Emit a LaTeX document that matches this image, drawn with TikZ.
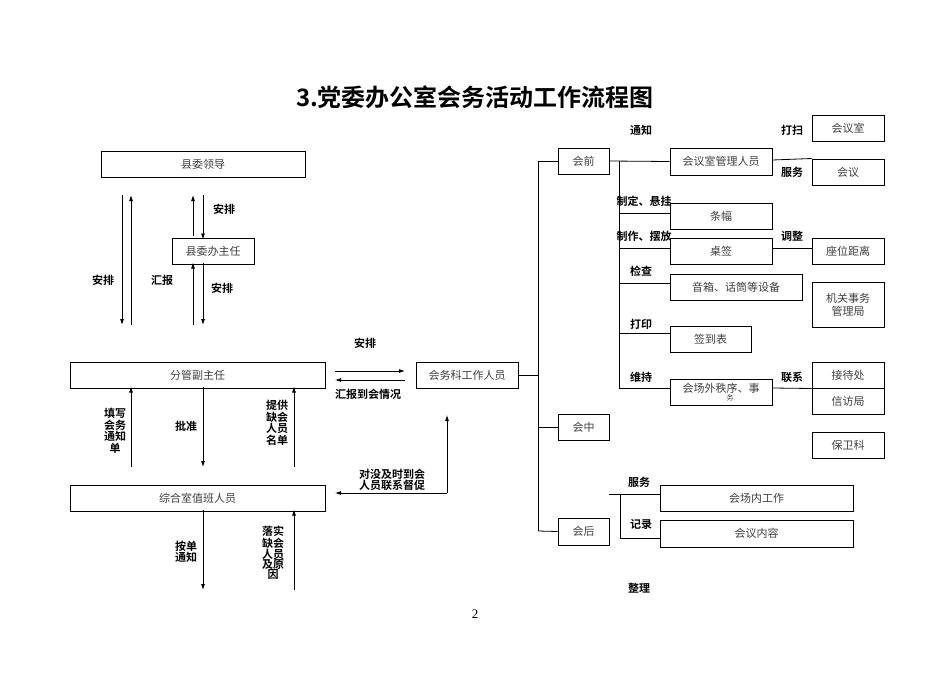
\documentclass[tikz,border=0pt]{standalone}
\usepackage{fontspec}
\setmainfont{Liberation Serif}
\newfontfamily\cjk{Noto Sans CJK SC}
\newfontfamily\cjkb{Noto Sans CJK SC Bold}
\usetikzlibrary{arrows.meta}
\begin{document}
\begin{tikzpicture}[x=1pt,y=-1pt,
  bx/.style={draw,line width=1pt,inner sep=0pt,font=\cjk\fontsize{11}{12}\selectfont,text=black!75},
  lb/.style={font=\cjkb\fontsize{11}{11.5}\selectfont,align=center,inner sep=0pt},
  ar/.style={-{Latex[length=6pt,width=4pt]},line width=0.8pt},
  ln/.style={line width=0.8pt}]
\useasboundingbox[fill=white] (0,0) rectangle (950,672);
\node[font=\cjkb\fontsize{24}{26}\selectfont] (title) at (475,97) {3.党委办公室会务活动工作流程图};
\newcommand\bxat[6]{\node[bx,minimum width=#4-#2,minimum height=#5-#3] (#1) at ({(#2+#4)/2},{(#3+#5)/2}) {#6};}
\bxat{xw}{101}{151}{305}{177}{县委领导}
\bxat{xb}{172}{238}{254}{264}{县委办主任}
\bxat{fg}{70}{362}{325}{388}{分管副主任}
\bxat{hw}{416}{362}{518}{388}{会务科工作人员}
\bxat{zh}{70}{485}{325}{511}{综合室值班人员}
\bxat{hq}{558}{148}{609}{174}{会前}
\bxat{hz}{558}{414}{609}{440}{会中}
\bxat{hh}{558}{518}{609}{545}{会后}
\bxat{gl}{670}{148}{772}{175}{会议室管理人员}
\bxat{tf}{670}{203}{772}{229}{条幅}
\bxat{zq}{670}{238}{772}{264}{桌签}
\bxat{yx}{670}{274}{802}{300}{音箱、话筒等设备}
\bxat{qd}{670}{326}{751}{352}{签到表}
\bxat{cx}{670}{379}{772}{405}{\raisebox{2pt}{会场外秩序、事}\llap{\raisebox{-6pt}{\scriptsize 务\hspace{26pt}}}}
\bxat{hys}{812}{115}{884}{141}{会议室}
\bxat{hy}{812}{159}{884}{185}{会议}
\bxat{zw}{812}{238}{884}{264}{座位距离}
\bxat{jg}{812}{282}{884}{327}{\shortstack{机关事务\\管理局}}
\bxat{jd}{812}{362}{884}{388}{接待处}
\bxat{xf}{812}{388}{884}{414}{信访局}
\bxat{bw}{812}{432}{884}{458}{保卫科}
\bxat{cn}{660}{485}{853}{511}{会场内工作}
\bxat{nr}{660}{520}{853}{547}{会议内容}
% left arrows
\coordinate (a1) at (122,195); \coordinate (a2) at (122,325);
\coordinate (b1) at (131,325); \coordinate (b2) at (131,195);
\draw[ar] (a1)--(a2); \draw[ar] (b1)--(b2);
\draw[ar] (xb.north-|193,0)++(0,-2) -- (193,195);
\draw[ar] (203,195) -- ([yshift=-2pt]xb.north-|203,0);
\draw[ar] (193,325) -- ([yshift=2pt]xb.south-|193,0);
\draw[ar] ([yshift=2pt]xb.south-|203,0) -- (203,325);
\node[lb] (l1) at (103,280) {安排};
\node[lb] (l2) at (162,280) {汇报};
\node[lb] (l3) at (224,209) {安排};
\node[lb] (l4) at (222,288) {安排};
\draw[ar] (335,371) -- (405,371);
\draw[ar] (405,380) -- (335,380);
\node[lb] (l5) at (365,343) {安排};
\node[lb] (l6) at (368,394) {汇报到会情况};
\draw[ar] (131,467) -- ([yshift=2pt]fg.south-|131,0);
\draw[ar] ([yshift=2pt]fg.south-|203,0) -- (203,467);
\draw[ar] (294,467) -- ([yshift=2pt]fg.south-|294,0);
\node[lb] (l7) at (115,431) {填写\\会务\\通知\\单};
\node[lb] (l8) at (186,426) {批准};
\node[lb] (l9) at (277,423) {提供\\缺会\\人员\\名单};
\draw[ar] (447,493) -- (447,415);
\draw[ar] (447,493) -- (335,493);
\node[lb] (l10) at (392,480) {对没及时到会\\人员联系督促};
\draw[ar] ([yshift=2pt]zh.south-|203,0) -- (203,590);
\draw[ar] (294,590) -- ([yshift=2pt]zh.south-|294,0);
\node[lb] (l11) at (186,552) {按单\\通知};
\node[lb,font=\cjkb\fontsize{11}{10}\selectfont] (l12) at (273,553) {落实\\缺会\\人员\\及原\\因};
% tree
\draw[ln] (hw.east) -- (538,375);
\draw[ln] (538,161) -- (538,531);
\draw[ln] (538,161) -- (hq.west);
\draw[ln] (538,427) -- (hz.west);
\draw[ln] (538,531) -- (hh.west);
\draw[ln] (hq.east) -- (gl.west);
\draw[ln] (619,161) -- (619,388);
\draw[ln] (619,213) -- (tf.west|-0,213);
\draw[ln] (619,248) -- (zq.west|-0,248);
\draw[ln] (619,283) -- (yx.west|-0,283);
\draw[ln] (619,333) -- (qd.west|-0,333);
\draw[ln] (619,388) -- (cx.west|-0,388);
\draw[ln] (gl.east|-0,160) -- (hy.north west);
\draw[ln] (zq.east|-0,248) -- (zw.west|-0,248);
\draw[ln] (cx.east|-0,388) -- (jd.south west);
\draw[ln] (609,494) -- (cn.west|-0,494);
\draw[ln] (620,494) -- (620,538) -- (nr.west|-0,538);
\node[lb] (m1) at (641,130) {通知};
\node[lb] (m2) at (644,201) {制定、悬挂};
\node[lb] (m3) at (644,236) {制作、摆放};
\node[lb] (m4) at (641,271) {检查};
\node[lb] (m5) at (641,324) {打印};
\node[lb] (m6) at (641,377) {维持};
\node[lb] (m7) at (792,130) {打扫};
\node[lb] (m8) at (792,172) {服务};
\node[lb] (m9) at (792,236) {调整};
\node[lb] (m10) at (792,377) {联系};
\node[lb] (m11) at (639,482) {服务};
\node[lb] (m12) at (641,524) {记录};
\node[lb] (m13) at (639,588) {整理};
\node[font=\fontsize{13}{14}\selectfont] (pg) at (475,614) {2};
\end{tikzpicture}
\end{document}
